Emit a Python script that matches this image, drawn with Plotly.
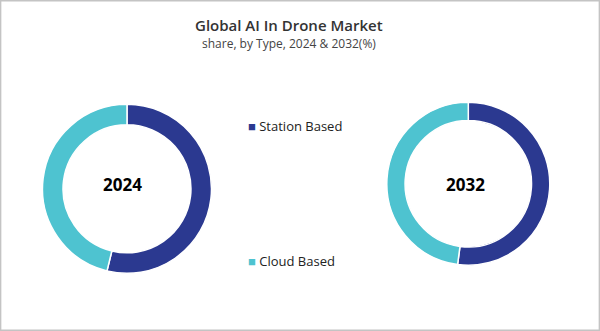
import plotly.graph_objects as go

# Market share by type (%)
types = ["Station Based", "Cloud Based"]
share_2024 = [53.8, 46.2]
share_2032 = [52.1, 47.9]
years = ["2024", "2032"]
colors = ["#2B3990", "#4EC3D0"]

fig = go.Figure()

fig.add_trace(go.Pie(
    labels=types, values=share_2024, hole=0.757, sort=False,
    direction="clockwise", rotation=0,
    marker=dict(colors=colors, line=dict(color="white", width=1.5)),
    textinfo="none", hoverinfo="label+percent", showlegend=False,
    domain=dict(x=[0.0708, 0.3525], y=[0.1743, 0.6849]),
))
fig.add_trace(go.Pie(
    labels=types, values=share_2032, hole=0.776, sort=False,
    direction="clockwise", rotation=0,
    marker=dict(colors=colors, line=dict(color="white", width=1.5)),
    textinfo="none", hoverinfo="label+percent", showlegend=False,
    domain=dict(x=[0.6447, 0.9163], y=[0.1985, 0.6909]),
))

annotations = [
    dict(text="Global AI In Drone Market", x=289 / 600, y=1 - 25.5 / 331,
         font=dict(family="Open Sans", size=15, color="#333333", weight=600)),
    dict(text="share, by Type, 2024 & 2032(%)", x=289 / 600, y=1 - 43.5 / 331,
         font=dict(family="Open Sans", size=12, color="#444444")),
    dict(text=years[0], x=122.5 / 600, y=1 - 184.5 / 331,
         font=dict(family="Open Sans", size=17, color="#000000", weight=700)),
    dict(text=years[1], x=465.8 / 600, y=1 - 184.5 / 331,
         font=dict(family="Open Sans", size=17, color="#000000", weight=700)),
]
# Legend entries built from the category names and colours
legend_y = [1 - 126 / 331, 1 - 260.5 / 331]
for name, col, ly in zip(types, colors, legend_y):
    annotations.append(dict(
        text=f"<span style='color:{col}'>■</span> {name}",
        x=246 / 600, y=ly, xanchor="left",
        font=dict(family="Open Sans", size=13, color="#222222"),
    ))
for a in annotations:
    a.update(xref="paper", yref="paper", showarrow=False)
    a.setdefault("xanchor", "center")
    a["yanchor"] = "middle"

fig.update_layout(
    width=600, height=331,
    margin=dict(l=0, r=0, t=0, b=0),
    paper_bgcolor="white", plot_bgcolor="white",
    annotations=annotations,
    shapes=[dict(type="rect", xref="paper", yref="paper",
                 x0=0.001, x1=0.999, y0=0.002, y1=0.998,
                 line=dict(color="#C4C4C4", width=1.5))],
)

fig.write_html("out.html")
